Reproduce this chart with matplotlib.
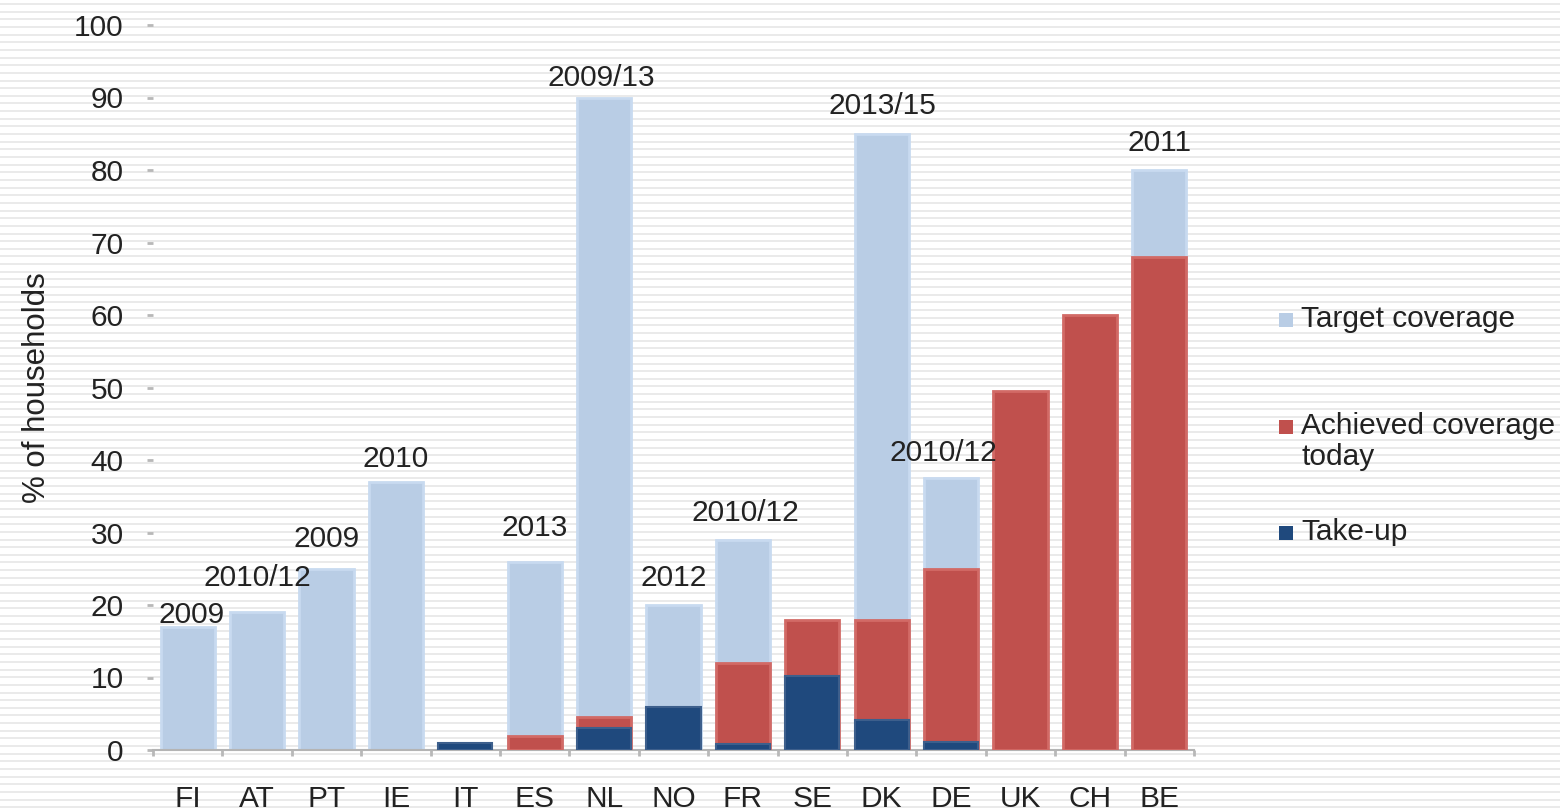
import numpy as np
import matplotlib.pyplot as plt
from matplotlib.lines import Line2D
from matplotlib.patches import Rectangle

plt.rcParams['font.family'] = ['Liberation Sans', 'DejaVu Sans']

countries = ['FI', 'AT', 'PT', 'IE', 'IT', 'ES', 'NL', 'NO', 'FR', 'SE', 'DK', 'DE', 'UK', 'CH', 'BE']
target = [17, 19, 25, 37, np.nan, 26, 90, 20, 29, np.nan, 85, 37.5, np.nan, np.nan, 80]
achieved = [np.nan, np.nan, np.nan, np.nan, np.nan, 2, 4.5, np.nan, 12, 18, 18, 25, 49.5, 60, 68]
takeup = [np.nan, np.nan, np.nan, np.nan, 1, np.nan, 3, 6, 0.8, 10.2, 4.1, 1.1, np.nan, np.nan, np.nan]
year_labels = ['2009', '2010/12', '2009', '2010', '', '2013', '2009/13', '2012', '2010/12', '',
               '2013/15', '2010/12', '', '', '2011']
legend_labels = ['Target coverage', 'Achieved coverage\ntoday', 'Take-up']

# where each year label sits relative to its bar top (pixels), as placed in the original
label_dx = [4, 0, 0, 0, 0, 0, -3, 0, 2, 0, 1, -8, 0, 0, 0]
label_dy = [4, 26, 22, 15, 0, 25, 11, 19, 19, 0, 20, 17, 0, 0, 19]

c_target = '#b9cde5'
c_achieved = '#c0504d'
c_takeup = '#1f497d'
fs = 21.5

W, H = 1560, 811
fig = plt.figure(figsize=(W / 100, H / 100), dpi=100)
fig.patch.set_facecolor('white')

# scan-like horizontal stripes in the background
for y in np.arange(4, H, 7.65):
    fig.add_artist(Line2D([0, 1], [1 - y / H] * 2, transform=fig.transFigure,
                          color='#e4e4e4', lw=1.1, zorder=-5))

ax = fig.add_axes([153 / W, 1 - 750 / H, (1194 - 153) / W, (750 - 25) / H])
ax.set_facecolor('none')

x = np.arange(len(countries))
bw = 0.78
ax.bar(x, target, width=bw, color=c_target, edgecolor='#c8daf0', linewidth=2, zorder=2)
ax.bar(x, achieved, width=bw, color=c_achieved, edgecolor='#d26a66', linewidth=2, zorder=3)
ax.bar(x, takeup, width=bw, color=c_takeup, edgecolor='#3d5f8c', linewidth=1.5, zorder=4)

for i, lab in enumerate(year_labels):
    if not lab:
        continue
    top = np.nanmax([target[i], achieved[i], takeup[i]])
    ax.annotate(lab, (i, top), xytext=(label_dx[i] * 0.72, label_dy[i] * 0.72),
                textcoords='offset points', ha='center', va='baseline',
                fontsize=fs, color='#222222')

ax.set_xlim(-0.5, len(countries) - 0.5)
ax.set_ylim(0, 100)
ax.set_yticks(np.arange(0, 101, 10))
ax.set_xticks(x)
ax.set_xticklabels(countries)
ax.set_xticks(np.arange(-0.5, len(countries), 1), minor=True)

for s in ['top', 'right', 'left']:
    ax.spines[s].set_visible(False)
ax.spines['bottom'].set_color('#b4b4b4')
ax.spines['bottom'].set_linewidth(1.5)

ax.tick_params(axis='y', length=4, width=2, color='#b8b8b8', pad=17, labelsize=fs, labelcolor='#222222')
ax.tick_params(axis='x', which='major', length=0, pad=25, labelsize=fs, labelcolor='#222222')
ax.tick_params(axis='x', which='minor', length=4, width=2, color='#b8b8b8')

ax.set_ylabel('% of households', fontsize=22.5, color='#222222')
ax.yaxis.set_label_coords((52 - 153) / (1194 - 153), 0.5)

# legend drawn at fixed spots to the right of the plot
legend_colors = [c_target, c_achieved, c_takeup]
legend_y = [320, 427, 533]
for lab, col, y in zip(legend_labels, legend_colors, legend_y):
    fig.patches.append(Rectangle((1279 / W, 1 - (y + 7) / H), 14 / W, 14 / H,
                                 transform=fig.transFigure, facecolor=col, edgecolor='none'))
    fig.text(1301 / W, 1 - (y - 15) / H, lab, fontsize=fs, color='#222222',
             va='top', ha='left', linespacing=1.15)

fig.savefig('out.png', dpi=100)
